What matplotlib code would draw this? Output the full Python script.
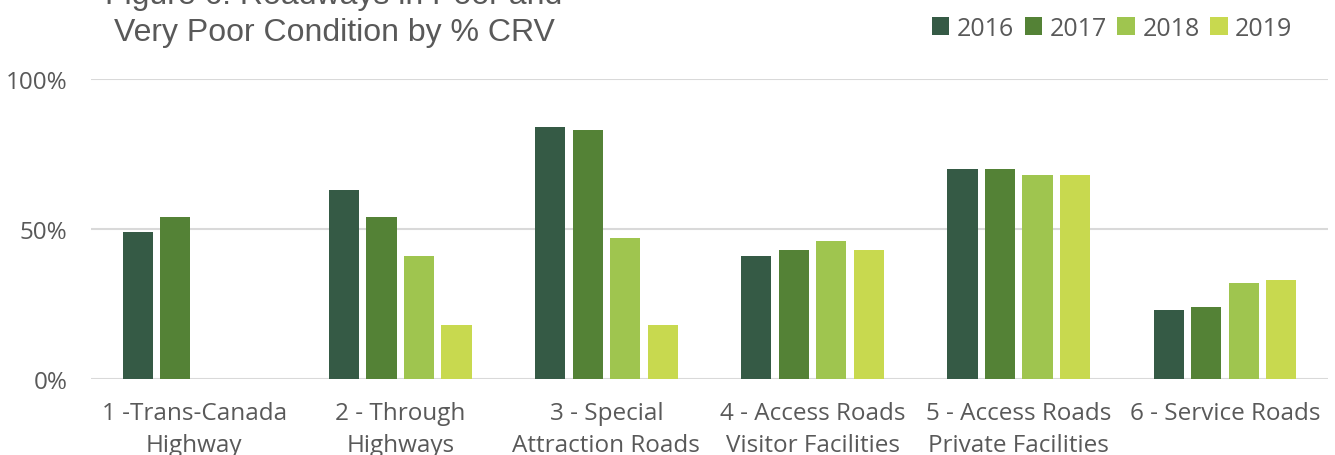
import numpy as np
import matplotlib
matplotlib.use('Agg')
import matplotlib.pyplot as plt
import matplotlib.ticker as ticker

# data
categories = ['1 -Trans-Canada\nHighway', '2 - Through\nHighways', '3 - Special\nAttraction Roads',
              '4 - Access Roads\nVisitor Facilities', '5 - Access Roads\nPrivate Facilities',
              '6 - Service Roads']
years = ['2016', '2017', '2018', '2019']
v2016 = [49, 63, 84, 41, 70, 23]
v2017 = [54, 54, 83, 43, 70, 24]
v2018 = [0, 41, 47, 46, 68, 32]
v2019 = [0, 18, 18, 43, 68, 33]
series = [v2016, v2017, v2018, v2019]
colors = ['#355a45', '#548236', '#9fc54f', '#c8d94f']

grey = '#595959'

fig = plt.figure(figsize=(13.35, 4.56), dpi=100)
ax = fig.add_axes([91/1335, 76/456, 1237/1335, 300/456])

x = np.arange(len(categories))
step = 0.182
width = 0.146
for i, (vals, c, yr) in enumerate(zip(series, colors, years)):
    ax.bar(x + (i - 1.5) * step, vals, width=width, color=c, label=yr, zorder=3)

ax.set_xlim(-0.5, len(categories) - 0.5)
ax.set_ylim(0, 100)
ax.set_yticks([0, 50, 100])
ax.yaxis.set_major_formatter(ticker.FuncFormatter(lambda v, _: f"{v:.0f}%"))
ax.grid(axis='y', color='#d9d9d9', linewidth=1.5, zorder=0)
for s in ax.spines.values():
    s.set_visible(False)
ax.tick_params(axis='both', length=0, colors=grey, labelsize=17.5)
ax.tick_params(axis='y', pad=17)
ax.tick_params(axis='x', pad=15.5)
ax.set_xticks(x)
ax.set_xticklabels(categories, fontfamily='Open Sans', linespacing=1.48)
for lab in ax.get_yticklabels():
    lab.set_fontfamily('Open Sans')

leg = fig.legend(loc='upper right', bbox_to_anchor=(1315/1335, 1 + 6/456), ncol=4, frameon=False,
                 prop={'family': 'Open Sans', 'size': 18}, handlelength=0.7, handleheight=0.7,
                 handletextpad=0.3, columnspacing=0.42, labelcolor=grey)

# title is cut off at the top of the reference
fig.text(334/1335, 1 + 4/456, 'Figure 6: Roadways in Poor and', ha='center', va='center',
         fontsize=23, color=grey, family='Liberation Sans')
fig.text(334/1335, 1 - 33/456, 'Very Poor Condition by % CRV', ha='center', va='center',
         fontsize=23, color=grey, family='Liberation Sans')

fig.savefig('out.png', dpi=100)
